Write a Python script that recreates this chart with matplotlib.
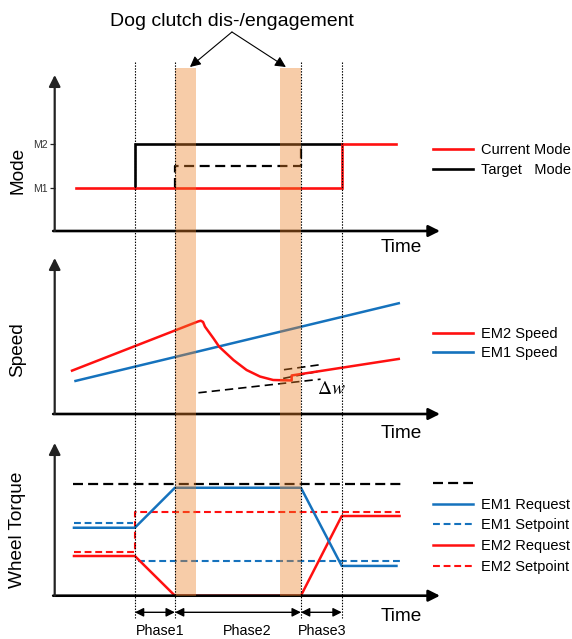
import numpy as np
import matplotlib
matplotlib.use('Agg')
import matplotlib.pyplot as plt
from matplotlib.lines import Line2D

plt.rcParams['font.family'] = ['Liberation Sans', 'DejaVu Sans']
plt.rcParams['mathtext.fontset'] = 'stix'

# --- data (time axis 0..10, values in arbitrary schematic units) ---
phase_t = [2.08, 3.12, 6.39, 7.45]
band_t = [(3.12, 3.67), (5.85, 6.39)]
phase_labels = ['Phase1', 'Phase2', 'Phase3']
phase_label_t = [2.73, 4.99, 6.94]

mode_ticks = [1, 2]
mode_ticklabels = ['M1', 'M2']
current_t = [0.54, 7.45, 7.45, 8.87]
current_mode = [1, 1, 2, 2]
target_t = [2.08, 2.08, 7.45]
target_mode = [1, 2, 2]
target_dash_t = [3.12, 3.12, 6.39, 6.39]
target_dash = [1, 1.5, 1.5, 2]

em1_speed_t = [0.54, 8.93]
em1_speed = [2.12, 7.10]
em2_speed_t = [0.45, 3.72, 3.79, 3.85, 3.90, 4.12, 4.27, 4.64, 4.98, 5.33, 5.67, 6.15, 6.15, 8.93]
em2_speed = [2.78, 5.93, 5.98, 5.90, 5.60, 4.85, 4.31, 3.46, 2.82, 2.40, 2.18, 2.15, 2.47, 3.53]
sync_low_t = [3.73, 6.90]
sync_low = [1.36, 2.23]
sync_mid_t = [5.93, 6.89]
sync_mid = [2.28, 2.76]
sync_up_t = [5.95, 6.89]
sync_up = [2.84, 3.16]

total_t = [0.47, 8.99]
total_torque = [7.30, 7.30]
em1_req_t = [0.5, 2.08, 3.12, 6.39, 7.45, 8.87]
em1_req = [4.45, 4.45, 7.07, 7.07, 1.95, 1.95]
em1_set_t = [0.5, 2.03, np.nan, 2.16, 8.96]
em1_set = [4.74, 4.74, np.nan, 2.27, 2.27]
em2_req_t = [0.5, 2.08, 3.12, 6.39, 7.45, 8.95]
em2_req = [2.6, 2.6, 0, 0, 5.22, 5.22]
em2_set_t = [0.5, 2.08, 2.08, 8.96]
em2_set = [2.88, 2.88, 5.50, 5.50]

RED = '#ff1010'
BLUE = '#1572bd'
BAND = (0.93, 0.5, 0.15)

W, H = 572, 639
x0_px, x1_px = 54.7, 440

fig = plt.figure(figsize=(W / 100, H / 100), dpi=100)


def panel(top_px, bottom_px):
    ax = fig.add_axes([x0_px / W, 1 - bottom_px / H, (x1_px - x0_px) / W, (bottom_px - top_px) / H])
    ax.set_xlim(0, 10)
    for s in ax.spines.values():
        s.set_visible(False)
    ax.set_xticks([])
    ax.set_yticks([])
    ax.patch.set_alpha(0)
    ap = dict(arrowstyle='-|>', lw=1.9, color='k', shrinkA=0, shrinkB=0, mutation_scale=17)
    ax.annotate('', xy=(1, 0), xytext=(-0.004, 0), xycoords='axes fraction', arrowprops=ap, zorder=5)
    ap2 = dict(ap, color='#222222', lw=1.6)
    ax.annotate('', xy=(0, 1), xytext=(0, 0), xycoords='axes fraction', arrowprops=ap2, zorder=5)
    return ax


def legend(ax, handles, labels, yc, spacing):
    ax.legend(handles, labels, loc='center left',
              bbox_to_anchor=(433 / W, 1 - yc / H), bbox_transform=fig.transFigure,
              frameon=False, fontsize=10.5, handlelength=2.74, handletextpad=0.55,
              borderpad=0, borderaxespad=0, labelspacing=spacing)


ax1 = panel(75, 231)
ax2 = panel(258, 414)
ax3 = panel(443, 595.7)

# Mode
ax1.set_ylim(0.03, 3.575)
ax1.plot(target_t, target_mode, color='k', lw=1.9, solid_joinstyle='miter')
ax1.plot(target_dash_t, target_dash, color='k', lw=1.6, dashes=(4.5, 2.5))
ax1.plot(current_t, current_mode, color=RED, lw=1.9, solid_joinstyle='miter')
ax1.set_yticks(mode_ticks)
ax1.set_yticklabels(mode_ticklabels, fontsize=7.6, color='#333333')
ax1.tick_params(axis='y', length=3.5, width=0.9, pad=1.5, color='#222222')
legend(ax1, [Line2D([], [], color=RED, lw=1.9), Line2D([], [], color='k', lw=1.9)],
       ['Current Mode', 'Target   Mode'], 160, 0.42)

# Speed
ax2.set_ylim(0, 10)
ax2.plot(sync_low_t, sync_low, color='k', lw=1.2, dashes=(5, 3))
ax2.plot(sync_mid_t, sync_mid, color='k', lw=1.2, dashes=(5, 3))
ax2.plot(sync_up_t, sync_up, color='k', lw=1.2, dashes=(5, 3))
ax2.plot(em1_speed_t, em1_speed, color=BLUE, lw=1.8)
ax2.plot(em2_speed_t, em2_speed, color=RED, lw=1.8)
ax2.text(7.18, 1.55, r'$\Delta w$', fontsize=14, ha='center', va='center')
legend(ax2, [Line2D([], [], color=RED, lw=1.9), Line2D([], [], color=BLUE, lw=1.9)],
       ['EM2 Speed', 'EM1 Speed'], 343.8, 0.36)

# Wheel torque
ax3.set_ylim(0, 10)
ax3.plot(total_t, total_torque, color='k', lw=1.6, dashes=(4.5, 2.3))
ax3.plot(em2_set_t, em2_set, color=RED, lw=1.5, dashes=(3.3, 1.8))
ax3.plot(em1_set_t, em1_set, color=BLUE, lw=1.5, dashes=(3.3, 1.8))
ax3.plot(em2_req_t, em2_req, color=RED, lw=1.8, clip_on=False)
ax3.plot(em1_req_t, em1_req, color=BLUE, lw=1.8)
h3 = [Line2D([], [], color='k', lw=1.6, dashes=(4.5, 2.3)),
      Line2D([], [], color=BLUE, lw=1.8),
      Line2D([], [], color=BLUE, lw=1.5, dashes=(3.3, 1.8)),
      Line2D([], [], color=RED, lw=1.8),
      Line2D([], [], color=RED, lw=1.5, dashes=(3.3, 1.8))]
legend(ax3, h3, [' ', 'EM1 Request', 'EM1 Setpoint', 'EM2 Request', 'EM2 Setpoint'], 525.5, 0.45)

# overlay in pixel rows for bands, phase markers and annotations
ov = fig.add_axes([x0_px / W, 0, (x1_px - x0_px) / W, 1])
ov.set_xlim(0, 10)
ov.set_ylim(H, 0)
ov.axis('off')
ov.set_zorder(10)
for a, b in band_t:
    ov.fill_betweenx([68, 596], a, b, color=BAND, alpha=0.4, lw=0)
ov.vlines(phase_t, 62, 618, color='k', lw=0.8, linestyles=(0, (1.3, 1.3)))

pa = dict(arrowstyle='<|-|>', lw=1.0, color='k', shrinkA=0, shrinkB=0, mutation_scale=13)
for a, b in zip(phase_t[:-1], phase_t[1:]):
    ov.annotate('', xy=(b, 612.3), xytext=(a, 612.3), arrowprops=pa)
for t, lab in zip(phase_label_t, phase_labels):
    ov.text(t, 631, lab, fontsize=10.3, ha='center', va='center')

for ty in [248, 433, 616.7]:
    ov.text(8.99, ty, 'Time', fontsize=13.7, ha='center', va='center')

ov.text(4.6, 21, 'Dog clutch dis-/engagement', fontsize=14, ha='center', va='center')
ca = dict(arrowstyle='-|>', lw=0.8, color='k', shrinkA=0, shrinkB=0, mutation_scale=16)
for tip in [3.51, 6.0]:
    ov.annotate('', xy=(tip, 67), xytext=(4.6, 32), arrowprops=ca)

for lab, yc in [('Mode', 170), ('Speed', 350), ('Wheel Torque', 530)]:
    fig.text(18 / W, 1 - yc / H, lab, rotation=90, fontsize=13.7, ha='center', va='center')

fig.savefig('out.png', dpi=100)
